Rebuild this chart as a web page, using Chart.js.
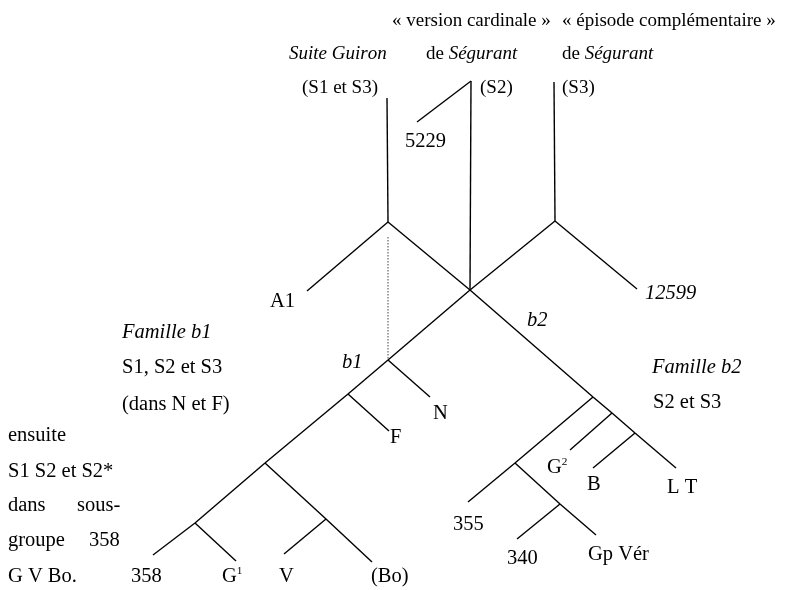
<!DOCTYPE html>
<html>
<head>
<meta charset="utf-8">
<script src="https://cdn.jsdelivr.net/npm/chart.js@4/dist/chart.umd.min.js"></script>
<style>
  body { margin: 0; background: #fff; }
  canvas { display: block; }
</style>
</head>
<body>
<canvas id="stemma" width="791" height="590"></canvas>
<script>
// nodes of the stemma (page pixel coordinates)
const nodeNames = ["sgTop", "sg", "a1End", "vcTop", "v5229", "cross", "ecTop", "ec", "e12599",
  "sgDot", "b1", "nEnd", "fNode", "fEnd", "gvb", "boEnd", "vNode", "vEnd", "g1Node", "g1End", "e358",
  "b2a", "b2b", "b2c", "lt", "n355", "e355", "n340", "gpEnd", "e340", "g2End", "bEnd"];
const nodeX = [387, 388, 307, 471, 417, 470, 554, 555, 637,
  388, 388, 430, 348, 389, 265, 372, 326, 284, 195, 236, 153,
  593, 612, 635, 676, 515, 468, 560, 596, 517, 570, 593];
const nodeY = [98, 222, 291, 81, 122, 290, 82, 221, 289,
  237, 360, 397, 394, 431, 463, 562, 519, 554, 523, 561, 555,
  397, 413, 433, 468, 463, 502, 504, 535, 539, 450, 468];

const edges = [
  ["sgTop", "sg"], ["sg", "a1End"], ["sg", "cross"], ["cross", "b2a"], ["b2a", "b2b"], ["b2b", "b2c"], ["b2c", "lt"],
  ["vcTop", "v5229"], ["vcTop", "cross"],
  ["ecTop", "ec"], ["ec", "e12599"], ["ec", "cross"], ["cross", "b1"], ["b1", "fNode"], ["fNode", "gvb"],
  ["gvb", "g1Node"], ["g1Node", "e358"],
  ["b1", "nEnd"], ["fNode", "fEnd"], ["gvb", "vNode"], ["vNode", "boEnd"], ["vNode", "vEnd"], ["g1Node", "g1End"],
  ["b2a", "n355"], ["n355", "e355"], ["n355", "n340"], ["n340", "gpEnd"], ["n340", "e340"],
  ["b2b", "g2End"], ["b2c", "bEnd"]
];
const dottedEdges = [["sgDot", "b1"]];

// labels: _italic_, ^ = superscript next char; x = left edge, y = baseline
const labelTexts = ["« version cardinale »", "« épisode complémentaire »", "_Suite Guiron_", "de _Ségurant_", "de _Ségurant_",
  "(S1 et S3)", "(S2)", "(S3)", "5229", "A1", "_12599_", "_b2_", "_b1_",
  "_Famille b1_", "S1, S2 et S3", "(dans N et F)", "N", "F",
  "ensuite", "S1 S2 et S2*", "dans", "sous-", "groupe", "358", "G V Bo.",
  "358", "G^1", "V", "(Bo)",
  "_Famille b2_", "S2 et S3", "G^2", "B", "L T", "355", "340", "Gp Vér"];
const labelX = [392, 562, 289, 426, 562,
  302, 480, 562, 405, 270, 645, 527, 342,
  122, 122, 122, 433, 390,
  8, 8, 8, 77, 8, 89, 8,
  131, 222, 279, 371,
  652, 653, 547, 587, 667, 453, 507, 588];
const labelY = [26, 26, 59, 59, 59,
  93, 93, 93, 147, 307, 299, 326, 368,
  338, 373, 410, 419, 443,
  441, 477, 511, 511, 546, 546, 582,
  582, 582, 582, 582,
  373, 408, 473, 490, 493, 530, 564, 560];

const pos = name => {
  const i = nodeNames.indexOf(name);
  return { x: nodeX[i], y: nodeY[i] };
};

const datasets = edges.map(e => ({
  data: [pos(e[0]), pos(e[1])],
  showLine: true,
  borderColor: "#000",
  borderWidth: 1.4,
  pointRadius: 0
})).concat(dottedEdges.map(e => ({
  data: [pos(e[0]), pos(e[1])],
  showLine: true,
  borderColor: "#444",
  borderWidth: 1,
  borderDash: [1.5, 1.5],
  pointRadius: 0
})));

const labelPlugin = {
  id: "stemmaLabels",
  afterDatasetsDraw(chart) {
    const ctx = chart.ctx;
    const sx = chart.scales.x, sy = chart.scales.y;
    ctx.save();
    ctx.fillStyle = "#000";
    ctx.textBaseline = "alphabetic";
    ctx.textAlign = "left";
    labelTexts.forEach((txt, i) => {
      const size = labelY[i] < 100 ? 19 : 20.5;
      let x = sx.getPixelForValue(labelX[i]);
      const y = sy.getPixelForValue(labelY[i]);
      let italic = false;
      for (let k = 0; k < txt.length; k++) {
        const ch = txt[k];
        if (ch === "_") { italic = !italic; continue; }
        if (ch === "^") {
          k++;
          ctx.font = (italic ? "italic " : "") + (size * 0.55) + "px 'Liberation Serif'";
          ctx.fillText(txt[k], x, y - size * 0.4);
          x += ctx.measureText(txt[k]).width;
          continue;
        }
        ctx.font = (italic ? "italic " : "") + size + "px 'Liberation Serif'";
        ctx.fillText(ch, x, y);
        x += ctx.measureText(ch).width;
      }
    });
    ctx.restore();
  }
};

new Chart(document.getElementById("stemma").getContext("2d"), {
  type: "scatter",
  data: { datasets: datasets },
  options: {
    responsive: false,
    animation: false,
    layout: { padding: 0 },
    scales: {
      x: { type: "linear", min: 0, max: 791, display: false },
      y: { type: "linear", min: 0, max: 590, reverse: true, display: false }
    },
    plugins: {
      legend: { display: false },
      tooltip: { enabled: false }
    }
  },
  plugins: [labelPlugin]
});
</script>
</body>
</html>
